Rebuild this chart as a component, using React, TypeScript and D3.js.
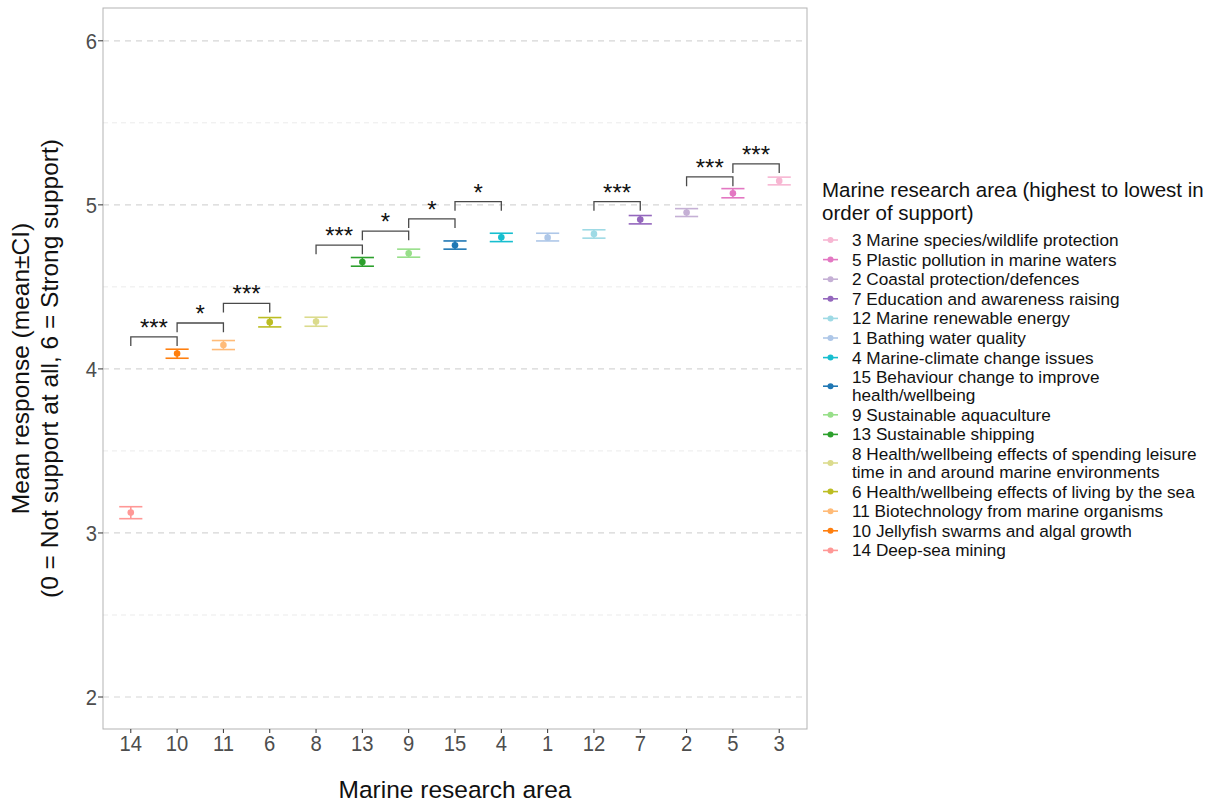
import React from "react";
import * as d3 from "d3";

// x order (lowest to highest mean support)
const areas = ["14", "10", "11", "6", "8", "13", "9", "15", "4", "1", "12", "7", "2", "5", "3"];
const means = [3.124, 4.094, 4.146, 4.285, 4.289, 4.652, 4.705, 4.754, 4.803, 4.80, 4.823, 4.91, 4.953, 5.071, 5.146];
const ciLow = [3.087, 4.065, 4.118, 4.256, 4.26, 4.626, 4.681, 4.73, 4.776, 4.78, 4.797, 4.884, 4.929, 5.043, 5.122];
const ciHigh = [3.16, 4.12, 4.173, 4.313, 4.315, 4.679, 4.73, 4.78, 4.827, 4.827, 4.848, 4.935, 4.977, 5.099, 5.169];

// legend order (highest to lowest)
const legendAreas = ["3", "5", "2", "7", "12", "1", "4", "15", "9", "13", "8", "6", "11", "10", "14"];
const legendLabels = [
  ["3 Marine species/wildlife protection"],
  ["5 Plastic pollution in marine waters"],
  ["2 Coastal protection/defences"],
  ["7 Education and awareness raising"],
  ["12 Marine renewable energy"],
  ["1 Bathing water quality"],
  ["4 Marine-climate change issues"],
  ["15 Behaviour change to improve", "health/wellbeing"],
  ["9 Sustainable aquaculture"],
  ["13 Sustainable shipping"],
  ["8 Health/wellbeing effects of spending leisure", "time in and around marine environments"],
  ["6 Health/wellbeing effects of living by the sea"],
  ["11 Biotechnology from marine organisms"],
  ["10 Jellyfish swarms and algal growth"],
  ["14 Deep-sea mining"],
];
const legendColors = [
  "#f7b6d2", "#e377c2", "#c5b0d5", "#9467bd", "#9edae5", "#aec7e8", "#17becf", "#1f77b4",
  "#98df8a", "#2ca02c", "#dbdb8d", "#bcbd22", "#ffbb78", "#ff7f0e", "#ff9896",
];

// significance brackets: [from, to, y, label]
const brackets: [string, string, number, string][] = [
  ["14", "10", 4.195, "***"],
  ["10", "11", 4.28, "*"],
  ["11", "6", 4.40, "***"],
  ["8", "13", 4.755, "***"],
  ["13", "9", 4.84, "*"],
  ["9", "15", 4.915, "*"],
  ["15", "4", 5.02, "*"],
  ["12", "7", 5.02, "***"],
  ["2", "5", 5.17, "***"],
  ["5", "3", 5.25, "***"],
];

const yTicks = [2, 3, 4, 5, 6];
const yMinor = [2.5, 3.5, 4.5, 5.5];

const W = 1228, H = 803;
const panel = { left: 103, right: 807, top: 8, bottom: 729 };
const font = "'Liberation Sans', Arial, sans-serif";
const tickColor = "#4d4d4d";

export default function App() {
  const x = d3.scalePoint<string>().domain(areas).range([panel.left, panel.right]).padding(0.6);
  const y = d3.scaleLinear().domain([1.805, 6.2]).range([panel.bottom, panel.top]);
  const color = d3.scaleOrdinal<string, string>().domain(legendAreas).range(legendColors);
  const capW = x.step() * 0.25;
  const tip = 0.056;

  // legend rows
  let cursor = 240;
  const legendRows = legendAreas.map((a, i) => {
    const lines = legendLabels[i];
    const first = cursor;
    const center = first + ((lines.length - 1) * 18) / 2;
    cursor += 19.6 + (lines.length - 1) * 18;
    return { a, lines, first, center, col: legendColors[i] };
  });

  return (
    <svg width={W} height={H} style={{ position: "absolute", left: 0, top: 0, background: "#fff" }} fontFamily={font}>
      {/* grid */}
      {yMinor.map((t) => (
        <line key={"m" + t} x1={panel.left} x2={panel.right} y1={y(t)} y2={y(t)} stroke="#ebebeb" strokeDasharray="5,4" strokeWidth={1} />
      ))}
      {yTicks.map((t) => (
        <line key={"g" + t} x1={panel.left} x2={panel.right} y1={y(t)} y2={y(t)} stroke="#d6d6d6" strokeDasharray="6,5" strokeWidth={1.2} />
      ))}

      {/* error bars and points */}
      {areas.map((a, i) => {
        const cx = x(a)!;
        const c = color(a);
        return (
          <g key={a} stroke={c} strokeWidth={1.6}>
            <line x1={cx} x2={cx} y1={y(ciLow[i])} y2={y(ciHigh[i])} />
            <line x1={cx - capW} x2={cx + capW} y1={y(ciLow[i])} y2={y(ciLow[i])} />
            <line x1={cx - capW} x2={cx + capW} y1={y(ciHigh[i])} y2={y(ciHigh[i])} />
            <circle cx={cx} cy={y(means[i])} r={3.3} fill={c} stroke="none" />
          </g>
        );
      })}

      {/* significance brackets */}
      {brackets.map(([a, b, v, lab], i) => {
        const x1 = x(a)!, x2 = x(b)!;
        const path = `M${x1},${y(v - tip)}L${x1},${y(v)}L${x2},${y(v)}L${x2},${y(v - tip)}`;
        return (
          <g key={"b" + i}>
            <path d={path} fill="none" stroke="#4a4a4a" strokeWidth={1.3} />
            <text x={(x1 + x2) / 2} y={y(v) - 1} textAnchor="middle" fontSize={24} fill="#111">{lab}</text>
          </g>
        );
      })}

      {/* panel border */}
      <rect x={panel.left} y={panel.top} width={panel.right - panel.left} height={panel.bottom - panel.top} fill="none" stroke="#b3b3b3" strokeWidth={1} />

      {/* y axis */}
      {yTicks.map((t) => (
        <g key={"yt" + t}>
          <line x1={panel.left - 5} x2={panel.left} y1={y(t)} y2={y(t)} stroke="#333" strokeWidth={1} />
          <text transform={`translate(${panel.left - 6},${y(t)}) scale(0.92,1)`} dy="0.36em" textAnchor="end" fontSize={22} fill={tickColor}>{t}</text>
        </g>
      ))}
      {/* x axis */}
      {areas.map((a) => (
        <g key={"xt" + a}>
          <line x1={x(a)!} x2={x(a)!} y1={panel.bottom} y2={panel.bottom + 4} stroke="#333" strokeWidth={1} />
          <text transform={`translate(${x(a)!},751) scale(0.92,1)`} textAnchor="middle" fontSize={22} fill={tickColor}>{a}</text>
        </g>
      ))}

      <text x={(panel.left + panel.right) / 2} y={798} textAnchor="middle" fontSize={24.5} fill="#111">Marine research area</text>
      <g transform={`translate(0,${(panel.top + panel.bottom) / 2}) rotate(-90)`}>
        <text x={0} y={29} textAnchor="middle" fontSize={24.5} fill="#111">Mean response (mean±CI)</text>
        <text x={0} y={58} textAnchor="middle" fontSize={24.5} fill="#111">(0 = Not support at all, 6 = Strong support)</text>
      </g>

      {/* legend */}
      <text x={822} y={190} dy="0.35em" fontSize={20.5} fill="#111">Marine research area (highest to lowest in</text>
      <text x={822} y={213} dy="0.35em" fontSize={20.5} fill="#111">order of support)</text>
      {legendRows.map((r) => (
        <g key={"lg" + r.a}>
          <line x1={823} x2={838} y1={r.center} y2={r.center} stroke={r.col} strokeWidth={1.6} />
          <circle cx={830.5} cy={r.center} r={3} fill={r.col} />
          {r.lines.map((l, j) => (
            <text key={j} x={852} y={r.first + j * 18} dy="0.35em" fontSize={17.2} fill="#111">{l}</text>
          ))}
        </g>
      ))}
    </svg>
  );
}
